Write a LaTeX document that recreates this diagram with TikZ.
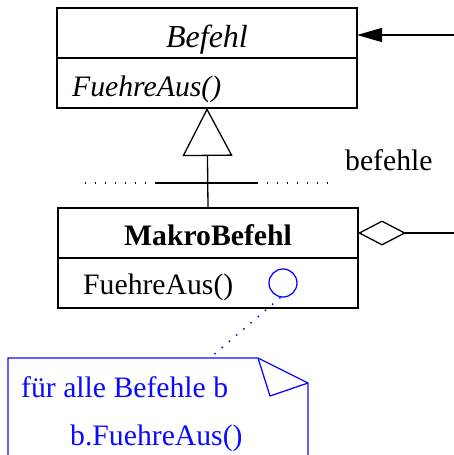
\documentclass[tikz,border=0pt]{standalone}
\usepackage{fontspec}
\setmainfont{Liberation Serif}
\usetikzlibrary{arrows.meta}
\definecolor{noteblue}{RGB}{10,10,255}
\begin{document}
\begin{tikzpicture}[x=1pt,y=-1pt,
  every node/.style={font=\fontsize{29.7}{34}\selectfont},
  compartment/.style={draw, line width=1.3pt, minimum width=300pt, minimum height=50pt, inner sep=0pt, outer sep=0pt},
  label/.style={anchor=base west, inner sep=0pt},
  title/.style={anchor=base, inner sep=0pt},
  umlline/.style={line width=1.3pt},
  dotline/.style={line width=1.3pt, dash pattern=on 1.3pt off 8.7pt},
  noteline/.style={draw=noteblue, line width=1.3pt},
  anchorline/.style={draw=noteblue, line width=1.5pt, dash pattern=on 1.5pt off 8pt}
]
\useasboundingbox (0,0) rectangle (454,455);

% abstract class Befehl
\node[compartment] (befehl) at (207,33) {};
\node[compartment, anchor=north] (befehlops) at (befehl.south) {};
\node[title, font=\fontsize{32}{36}\selectfont\itshape] (befehlname) at (207,47) {Befehl};
\node[label, font=\fontsize{29.7}{34}\selectfont\itshape] (befehlop) at (72,96) {FuehreAus()};

% composite class MakroBefehl
\node[compartment] (makro) at (208,233) {};
\node[compartment, anchor=north] (makroops) at (makro.south) {};
\node[title, font=\fontsize{29.7}{34}\selectfont\bfseries] (makroname) at (208,245) {MakroBefehl};
\node[label] (makroop) at (83,294) {FuehreAus()};
\node[circle, draw=noteblue, line width=1.3pt, minimum size=28pt, inner sep=0pt] (hook) at (283,283) {};

% generalization with the shared bar
\coordinate (barleft) at (156,183);
\coordinate (barright) at (257,183);
\coordinate (dotsleft) at (85,183);
\coordinate (dotsright) at (335,183);
\draw[umlline, -{Triangle[open, length=48pt, width=50pt]}] (makro.north) -- (befehlops.south);
\draw[umlline] (barleft) -- (barright);
\draw[dotline] (dotsleft) -- (barleft);
\draw[dotline] (barright) -- (dotsright);

% role name and associations
\node[label] (role) at (345,170) {befehle};
\coordinate (clientin) at (454,35);
\coordinate (childrenout) at (454,233);
\draw[umlline, -{Triangle[length=25pt, width=14pt]}] (clientin) -- (befehl.east |- clientin);
\draw[umlline, -{Diamond[open, length=48pt, width=25pt]}] (childrenout) -- (makro.east);

% note with folded corner
\coordinate (notetop) at (210,358);
\draw[noteline] (8,456) -- (8,358) -- (258,358) -- (308,383) -- (308,456);
\draw[noteline, line join=round] (258,358) -- (270,396) -- (308,383);
\node[label, text=noteblue] (notel1) at (21,397) {für alle Befehle b};
\node[label, text=noteblue] (notel2) at (70,445) {b.FuehreAus()};
\draw[anchorline] (hook.-100) -- (notetop);
\end{tikzpicture}
\end{document}
